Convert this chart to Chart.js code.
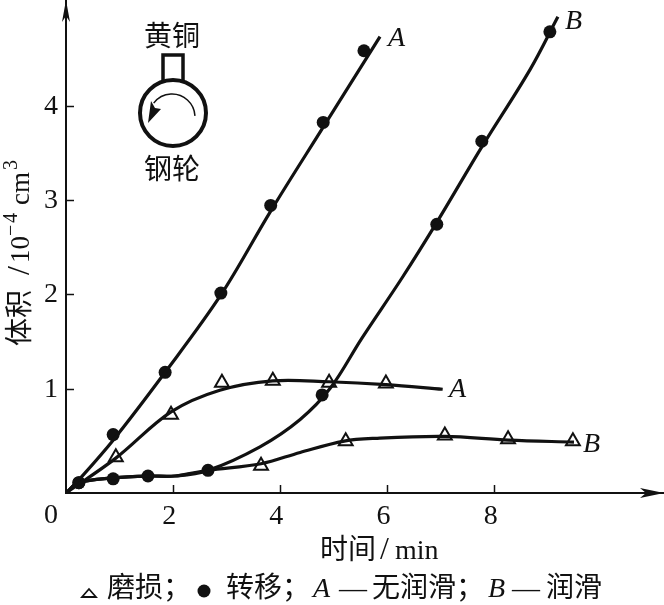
<!DOCTYPE html>
<html>
<head>
<meta charset="utf-8">
<script src="https://cdn.jsdelivr.net/npm/chart.js@4"></script>
<style>
  html, body { margin: 0; padding: 0; background: #fff; }
  canvas { display: block; }
</style>
</head>
<body>
<canvas id="chart" width="664" height="605"></canvas>
<script>
// --- data ---
const xTicks = [2, 4, 6, 8];
const yTicks = [1, 2, 3, 4];

// measured points
const transferAX = [0.24, 0.88, 1.85, 2.89, 3.82, 4.80, 5.56];
const transferAY = [0.01, 0.52, 1.18, 2.02, 2.95, 3.83, 4.59];
const transferBX = [0.24, 0.88, 1.53, 2.65, 4.78, 6.92, 7.76, 9.03];
const transferBY = [0.01, 0.05, 0.08, 0.14, 0.94, 2.75, 3.63, 4.79];
const wearAX = [0.93, 1.96, 2.91, 3.86, 4.91, 5.97];
const wearAY = [0.28, 0.73, 1.07, 1.09, 1.07, 1.06];
const wearBX = [3.64, 5.22, 7.07, 8.25, 9.46];
const wearBY = [0.19, 0.45, 0.51, 0.47, 0.45];

// fitted curves, these do not go through the points exactly
const curveTransferAX = [0, 0.24, 0.88, 1.85, 2.89, 3.82, 4.80, 5.86];
const curveTransferAY = [-0.1, 0.04, 0.46, 1.18, 2.00, 2.89, 3.78, 4.74];
const curveTransferBX = [0, 0.24, 0.88, 1.53, 2.03, 2.65, 3.62, 4.37, 4.93, 5.52, 6.27, 6.92, 7.76, 8.66, 9.18];
const curveTransferBY = [-0.1, 0.01, 0.06, 0.08, 0.08, 0.14, 0.39, 0.68, 1.01, 1.54, 2.18, 2.77, 3.57, 4.39, 4.95];
const curveWearAX = [0, 0.93, 1.96, 2.87, 3.86, 4.91, 5.97, 7.03];
const curveWearAY = [-0.1, 0.27, 0.76, 0.99, 1.09, 1.08, 1.05, 1.00];
const curveWearBX = [0, 0.24, 0.88, 1.53, 2.03, 2.65, 3.64, 4.37, 5.19, 5.77, 7.07, 8.26, 9.48];
const curveWearBY = [-0.1, 0.01, 0.06, 0.08, 0.08, 0.14, 0.21, 0.33, 0.45, 0.48, 0.50, 0.46, 0.44];

const serif = '"Liberation Serif"';
const cjk = '"Noto Sans CJK SC"';
const ink = '#111';

function toPoints(xs, ys) {
    return xs.map((x, i) => ({ x: x, y: ys[i] }));
}

function curve(xs, ys) {
    return {
        data: toPoints(xs, ys),
        borderColor: ink,
        borderWidth: 3.2,
        pointRadius: 0,
        tension: 0.35,
        showLine: true
    };
}

function marks(xs, ys, style) {
    return {
        data: toPoints(xs, ys),
        showLine: false,
        pointStyle: style,
        pointRadius: style === 'circle' ? 6.5 : 8,
        pointBackgroundColor: style === 'circle' ? ink : '#fff',
        pointBorderColor: ink,
        pointBorderWidth: style === 'circle' ? 0 : 2
    };
}

// writes text runs at their own offsets along the baseline
function writeRuns(ctx, x, y, runs) {
    ctx.textAlign = 'left';
    ctx.textBaseline = 'alphabetic';
    runs.forEach(r => {
        ctx.font = r.font;
        ctx.fillText(r.text, x + r.at, y + (r.up || 0));
    });
}

// axis arrows, inset sketch and the texts Chart.js has no slot for
const decorations = {
    id: 'decorations',
    afterDraw(chart) {
        const ctx = chart.ctx;
        const left = chart.chartArea.left, bottom = chart.chartArea.bottom;
        const key = '28px ' + cjk;
        const keyLatin = '28px ' + serif;
        const keyItalic = 'italic 28px ' + serif;
        ctx.save();
        ctx.fillStyle = ink;
        ctx.strokeStyle = ink;

        // arrows
        ctx.beginPath();
        ctx.moveTo(664, bottom);
        ctx.lineTo(640, bottom - 5);
        ctx.lineTo(646, bottom);
        ctx.lineTo(640, bottom + 5);
        ctx.closePath();
        ctx.fill();
        ctx.beginPath();
        ctx.moveTo(left, 0);
        ctx.lineTo(left - 4, 22);
        ctx.lineTo(left, 16);
        ctx.lineTo(left + 4, 22);
        ctx.closePath();
        ctx.fill();

        // origin
        ctx.font = '28px ' + serif;
        ctx.textAlign = 'center';
        ctx.textBaseline = 'alphabetic';
        ctx.fillText('0', 51, 523);

        // x title
        writeRuns(ctx, 320, 559, [
            { text: '时间', font: '28px ' + cjk, at: 0 },
            { text: '/', font: '32px ' + serif, at: 60 },
            { text: 'min', font: '28px ' + serif, at: 75 }
        ]);

        // y title
        ctx.save();
        ctx.translate(29, 346);
        ctx.rotate(-Math.PI / 2);
        writeRuns(ctx, 0, 0, [
            { text: '体积', font: '28px ' + cjk, at: 0 },
            { text: '/', font: '32px ' + serif, at: 71 },
            { text: '10', font: '27px ' + serif, at: 83 },
            { text: '−', font: '20px ' + serif, at: 110, up: -12 },
            { text: '4', font: '20px ' + serif, at: 123, up: -12 },
            { text: 'cm', font: '27px ' + serif, at: 141 },
            { text: '3', font: '20px ' + serif, at: 176, up: -12 }
        ]);
        ctx.restore();

        // curve names
        ctx.font = 'italic 28px ' + serif;
        ctx.textAlign = 'left';
        ctx.fillText('A', 388, 46);
        ctx.fillText('B', 565, 29);
        ctx.fillText('A', 449, 397);
        ctx.fillText('B', 583, 452);

        // inset
        ctx.font = '28px ' + cjk;
        ctx.textAlign = 'center';
        ctx.fillText('黄铜', 172, 46);
        ctx.fillText('钢轮', 172, 179);
        ctx.lineWidth = 3.5;
        ctx.strokeRect(163, 55, 20, 27);
        ctx.fillStyle = '#fff';
        ctx.beginPath();
        ctx.arc(173, 113, 33, 0, Math.PI * 2);
        ctx.fill();
        ctx.lineWidth = 4;
        ctx.stroke();
        ctx.lineWidth = 1.5;
        ctx.beginPath();
        ctx.arc(172, 117, 23, -0.05, Math.PI + 0.65, true);
        ctx.stroke();
        ctx.fillStyle = ink;
        ctx.beginPath();
        ctx.moveTo(148, 123);
        ctx.lineTo(151, 101);
        ctx.lineTo(155, 108);
        ctx.lineTo(161, 109);
        ctx.closePath();
        ctx.fill();

        // key below the chart
        const keyY = 597;
        ctx.lineWidth = 1.8;
        ctx.beginPath();
        ctx.moveTo(89, 589);
        ctx.lineTo(82, 597);
        ctx.lineTo(96, 597);
        ctx.closePath();
        ctx.stroke();
        ctx.beginPath();
        ctx.arc(204, 591, 6.5, 0, Math.PI * 2);
        ctx.fill();
        writeRuns(ctx, 0, keyY, [
            { text: '磨损；', font: key, at: 107 },
            { text: '转移；', font: key, at: 226 },
            { text: 'A', font: keyItalic, at: 313 },
            { text: '—', font: keyLatin, at: 339 },
            { text: '无润滑；', font: key, at: 372 },
            { text: 'B', font: keyItalic, at: 488 },
            { text: '—', font: keyLatin, at: 512 },
            { text: '润滑', font: key, at: 546 }
        ]);
        ctx.restore();
    }
};

// scale padding has to go or the plot no longer sits on the axes of the picture
function noPadding(axis) {
    axis.paddingTop = 0;
    axis.paddingBottom = 0;
    axis.paddingLeft = 0;
    axis.paddingRight = 0;
}

new Chart(document.getElementById('chart'), {
    type: 'scatter',
    data: {
        datasets: [
            curve(curveTransferAX, curveTransferAY),
            curve(curveTransferBX, curveTransferBY),
            curve(curveWearAX, curveWearAY),
            curve(curveWearBX, curveWearBY),
            marks(transferAX, transferAY, 'circle'),
            marks(transferBX, transferBY, 'circle'),
            marks(wearAX, wearAY, 'triangle'),
            marks(wearBX, wearBY, 'triangle')
        ]
    },
    options: {
        responsive: false,
        animation: false,
        layout: { padding: 0, autoPadding: false },
        plugins: {
            legend: { display: false },
            tooltip: { enabled: false }
        },
        scales: {
            x: {
                type: 'linear',
                min: 0,
                max: 11.16,
                afterBuildTicks: axis => { axis.ticks = xTicks.map(v => ({ value: v })); },
                afterFit: axis => { axis.height = 112; noPadding(axis); },
                border: { color: ink, width: 2 },
                grid: { drawOnChartArea: false, tickLength: -8, color: ink, tickWidth: 1.5 },
                ticks: {
                    color: ink,
                    font: { family: serif, size: 28 },
                    maxRotation: 0,
                    padding: 15,
                    labelOffset: -4
                }
            },
            y: {
                type: 'linear',
                min: -0.1,
                max: 5.128,
                afterBuildTicks: axis => { axis.ticks = yTicks.map(v => ({ value: v })); },
                afterFit: axis => { axis.width = 66; noPadding(axis); },
                border: { color: ink, width: 2 },
                grid: { drawOnChartArea: false, tickLength: -8, color: ink, tickWidth: 1.5 },
                ticks: {
                    color: ink,
                    font: { family: serif, size: 28 },
                    padding: 16
                }
            }
        }
    },
    plugins: [decorations]
});
</script>
</body>
</html>
